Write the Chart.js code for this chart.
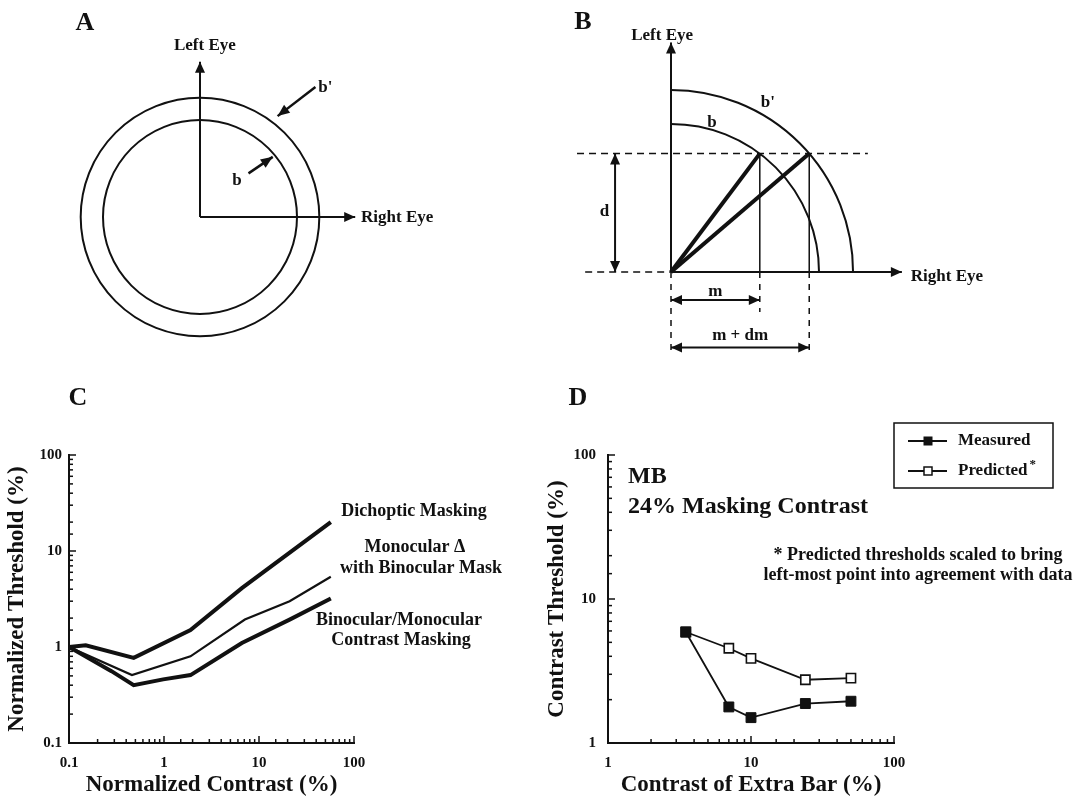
<!DOCTYPE html>
<html><head><meta charset="utf-8">
<script src="https://cdn.jsdelivr.net/npm/chart.js@4"></script>
<style>
html,body{margin:0;padding:0;background:#fff;width:1079px;height:800px;overflow:hidden;}
canvas{position:absolute;}
</style></head><body>
<canvas id="cA" width="540" height="380" style="left:0;top:0"></canvas>
<canvas id="cB" width="539" height="380" style="left:540px;top:0"></canvas>
<canvas id="cC" width="540" height="420" style="left:0;top:380px"></canvas>
<canvas id="cD" width="539" height="420" style="left:540px;top:380px"></canvas>
<script>
// ---------------- DATA ----------------
// Panel A (units: inner radius b = 1)
const aRadii = [1, 1.23];
const aAxisLen = 1.6;
const aPointerBprime = [[1.19, 1.34], [0.80, 1.04]];
const aPointerB = [[0.50, 0.45], [0.75, 0.62]];

// Panel B (units: inner radius b = 1)
const bRadii = [1, 1.23];
const bAxisLen = [1.56, 1.55];
const bD = 0.8;
const bM = 0.6;
const bMdm = 0.934;

// Panel C: normalized contrast (%) vs normalized threshold (%)
const dichX = [0.1, 0.15, 0.48, 1.9, 6.6, 57];
const dichY = [1.0, 1.04, 0.77, 1.5, 4.1, 20];
const monoX = [0.1, 0.46, 1.9, 7.1, 21, 57];
const monoY = [1.0, 0.51, 0.8, 1.93, 3.0, 5.4];
const binoX = [0.1, 0.28, 0.48, 0.98, 1.9, 6.6, 21, 57];
const binoY = [1.0, 0.56, 0.4, 0.46, 0.51, 1.1, 1.93, 3.2];
const cDecades = [0.1, 1, 10, 100];
const cTickLabels = ['0.1', '1', '10', '100'];

// Panel D: contrast of extra bar (%) vs contrast threshold (%)
const extraBar = [3.5, 7, 10, 24, 50];
const measured = [5.9, 1.78, 1.5, 1.88, 1.95];
const predicted = [5.9, 4.55, 3.87, 2.75, 2.82];
const dDecades = [1, 10, 100];
const dTickLabels = ['1', '10', '100'];

// ---------------- HELPERS ----------------
const FONT = '"Liberation Serif", "Times New Roman", serif';
const INK = '#111';
const pts = (xs, ys) => xs.map((x, i) => ({x, y: ys[i]}));
const seg = s => s.map(p => ({x: p[0], y: p[1]}));
const bold = size => ({family: FONT, size, weight: 'bold'});

function decadeLabel(decades, labels) {
  return v => {
    const i = decades.findIndex(d => Math.abs(d - v) / d < 1e-6);
    return i >= 0 ? labels[i] : '';
  };
}
const isDecade = v => { const l = Math.log10(v); return Math.abs(l - Math.round(l)) < 1e-6; };

const inwardTicks = {
  id: 'inwardTicks',
  afterDraw(chart) {
    const ctx = chart.ctx, a = chart.chartArea, xs = chart.scales.x, ys = chart.scales.y;
    ctx.save(); ctx.strokeStyle = INK; ctx.lineWidth = 1.5;
    xs.ticks.forEach(t => {
      const p = xs.getPixelForValue(t.value), L = isDecade(t.value) ? 7 : 4;
      ctx.beginPath(); ctx.moveTo(p, a.bottom); ctx.lineTo(p, a.bottom - L); ctx.stroke();
    });
    ys.ticks.forEach(t => {
      const p = ys.getPixelForValue(t.value), L = isDecade(t.value) ? 7 : 4;
      ctx.beginPath(); ctx.moveTo(a.left, p); ctx.lineTo(a.left + L, p); ctx.stroke();
    });
    ctx.restore();
  }
};

function drawHead(ctx, from, to, len, w) {
  const ang = Math.atan2(to.y - from.y, to.x - from.x);
  const c = Math.cos(ang), s = Math.sin(ang);
  ctx.beginPath();
  ctx.moveTo(to.x, to.y);
  ctx.lineTo(to.x - len * c + w * s, to.y - len * s - w * c);
  ctx.lineTo(to.x - len * c - w * s, to.y - len * s + w * c);
  ctx.closePath(); ctx.fill();
}
const arrowPlugin = {
  id: 'arrows',
  afterDatasetsDraw(chart) {
    const ctx = chart.ctx;
    chart.data.datasets.forEach((ds, i) => {
      if (!ds.arrow) return;
      const el = chart.getDatasetMeta(i).data;
      const p0 = el[0], p1 = el[el.length - 1];
      ctx.save(); ctx.fillStyle = INK;
      drawHead(ctx, p0, p1, ds.headLen || 11, ds.headW || 5);
      if (ds.arrow === 'both') drawHead(ctx, p1, p0, ds.headLen || 11, ds.headW || 5);
      ctx.restore();
    });
  }
};

// text notes: anchor 'data' (scale values), 'area' (offset from chart area), 'canvas'
const notesPlugin = {
  id: 'notes',
  afterDraw(chart, args, opts) {
    const ctx = chart.ctx, a = chart.chartArea;
    (opts.items || []).forEach(n => {
      let x, y;
      if (n.anchor === 'data') { x = chart.scales.x.getPixelForValue(n.x); y = chart.scales.y.getPixelForValue(n.y); }
      else if (n.anchor === 'area') { x = a.left + n.x; y = a.top + n.y; }
      else { x = n.x; y = n.y; }
      ctx.save();
      ctx.fillStyle = INK;
      ctx.font = 'bold ' + n.size + 'px ' + FONT;
      ctx.textAlign = n.align || 'center';
      ctx.textBaseline = 'middle';
      ctx.fillText(n.text, x, y);
      ctx.restore();
    });
  }
};

const ringsPlugin = {
  id: 'rings',
  beforeDatasetsDraw(chart, args, opts) {
    const ctx = chart.ctx, xs = chart.scales.x, ys = chart.scales.y;
    const cx = xs.getPixelForValue(0), cy = ys.getPixelForValue(0);
    ctx.save(); ctx.strokeStyle = INK; ctx.lineWidth = opts.width || 2;
    opts.radii.forEach(r => {
      const rx = xs.getPixelForValue(r) - cx, ry = cy - ys.getPixelForValue(r);
      ctx.beginPath();
      ctx.ellipse(cx, cy, rx, ry, 0, opts.start, opts.end);
      ctx.stroke();
    });
    ctx.restore();
  }
};

function segDataset(s, o) {
  return Object.assign({data: seg(s), showLine: true, borderColor: INK, borderWidth: 2,
    pointRadius: 0, tension: 0, clip: false}, o || {});
}
const hiddenScales = (xmin, xmax, ymin, ymax) => ({
  x: {type: 'linear', min: xmin, max: xmax, display: false},
  y: {type: 'linear', min: ymin, max: ymax, display: false}
});
const baseOpts = {responsive: false, animation: false, events: []};

// ---------------- PANEL A ----------------
{
  const k = 97; // px per unit
  new Chart(document.getElementById('cA'), {
    type: 'scatter',
    data: {datasets: [
      segDataset([[0, 0], [0, aAxisLen]], {arrow: 'end'}),
      segDataset([[0, 0], [aAxisLen, 0]], {arrow: 'end'}),
      segDataset(aPointerBprime, {arrow: 'end', borderWidth: 2.5, headLen: 12, headW: 5}),
      segDataset(aPointerB, {arrow: 'end', borderWidth: 2.5, headLen: 12, headW: 5})
    ]},
    options: Object.assign({}, baseOpts, {
      layout: {padding: 0},
      scales: hiddenScales(-200 / k, 340 / k, -163 / k, 217 / k),
      plugins: {legend: {display: false}, tooltip: {enabled: false},
        rings: {radii: aRadii, start: 0, end: 2 * Math.PI, width: 2},
        notes: {items: [
          {text: 'A', anchor: 'canvas', x: 85, y: 23, size: 26},
          {text: 'Left Eye', anchor: 'data', x: 0.05, y: 1.77, size: 17},
          {text: 'Right Eye', anchor: 'data', x: 1.66, y: -0.01, size: 17, align: 'left'},
          {text: "b'", anchor: 'data', x: 1.22, y: 1.33, size: 17, align: 'left'},
          {text: 'b', anchor: 'data', x: 0.38, y: 0.38, size: 17}
        ]}}
    }),
    plugins: [ringsPlugin, arrowPlugin, notesPlugin]
  });
}

// ---------------- PANEL B ----------------
{
  const k = 148;
  const dash = {borderDash: [7, 5], borderWidth: 1.5};
  new Chart(document.getElementById('cB'), {
    type: 'scatter',
    data: {datasets: [
      segDataset([[0, 0], [0, bAxisLen[1]]], {arrow: 'end'}),
      segDataset([[0, 0], [bAxisLen[0], 0]], {arrow: 'end'}),
      segDataset([[0, 0], [bM, bD]], {borderWidth: 4}),
      segDataset([[0, 0], [bMdm, bD]], {borderWidth: 4}),
      segDataset([[bM, bD], [bM, 0]], {borderWidth: 1.5}),
      segDataset([[bMdm, bD], [bMdm, 0]], {borderWidth: 1.5}),
      segDataset([[-0.635, bD], [1.33, bD]], dash),
      segDataset([[-0.58, 0], [0, 0]], dash),
      segDataset([[0, 0], [0, -0.56]], {borderDash: [6, 6], borderWidth: 1.5}),
      segDataset([[bM, 0], [bM, -0.27]], {borderDash: [6, 6], borderWidth: 1.5}),
      segDataset([[bMdm, 0], [bMdm, -0.56]], {borderDash: [6, 6], borderWidth: 1.5}),
      segDataset([[-0.378, 0], [-0.378, bD]], {arrow: 'both'}),
      segDataset([[0, -0.19], [bM, -0.19]], {arrow: 'both'}),
      segDataset([[0, -0.51], [bMdm, -0.51]], {arrow: 'both'})
    ]},
    options: Object.assign({}, baseOpts, {
      layout: {padding: 0},
      scales: hiddenScales(-131 / k, 408 / k, -108 / k, 272 / k),
      plugins: {legend: {display: false}, tooltip: {enabled: false},
        rings: {radii: bRadii, start: -Math.PI / 2, end: 0, width: 2},
        notes: {items: [
          {text: 'B', anchor: 'canvas', x: 43, y: 22, size: 26},
          {text: 'Left Eye', anchor: 'data', x: -0.06, y: 1.60, size: 17},
          {text: 'Right Eye', anchor: 'data', x: 1.62, y: -0.03, size: 17, align: 'left'},
          {text: "b'", anchor: 'data', x: 0.655, y: 1.142, size: 17},
          {text: 'b', anchor: 'data', x: 0.277, y: 1.01, size: 17},
          {text: 'd', anchor: 'data', x: -0.45, y: 0.405, size: 17},
          {text: 'm', anchor: 'data', x: 0.3, y: -0.135, size: 17},
          {text: 'm + dm', anchor: 'data', x: 0.467, y: -0.43, size: 17}
        ]}}
    }),
    plugins: [ringsPlugin, arrowPlugin, notesPlugin]
  });
}

// ---------------- LOG AXIS FACTORY ----------------
function logAxis(min, max, decades, labels, title, fitProp, fitVal, tickPad, titlePad) {
  return {
    type: 'logarithmic', min, max,
    grid: {display: false, drawTicks: false},
    border: {display: true, color: INK, width: 2},
    ticks: {autoSkip: false, maxRotation: 0, minRotation: 0, padding: tickPad, color: INK,
      font: bold(15), callback: decadeLabel(decades, labels)},
    title: {display: true, text: title, color: INK, font: bold(23), padding: titlePad},
    afterFit: s => { s[fitProp] = fitVal; }
  };
}

// ---------------- PANEL C ----------------
new Chart(document.getElementById('cC'), {
  type: 'scatter',
  data: {datasets: [
    {label: 'Dichoptic Masking', data: pts(dichX, dichY), showLine: true, borderColor: INK, borderWidth: 4, pointRadius: 0, tension: 0},
    {label: 'Monocular Δ with Binocular Mask', data: pts(monoX, monoY), showLine: true, borderColor: INK, borderWidth: 2.2, pointRadius: 0, tension: 0},
    {label: 'Binocular/Monocular Contrast Masking', data: pts(binoX, binoY), showLine: true, borderColor: INK, borderWidth: 4, pointRadius: 0, tension: 0}
  ]},
  options: Object.assign({}, baseOpts, {
    layout: {padding: {left: 0, top: 75, right: 186, bottom: 0}},
    scales: {
      x: logAxis(0.1, 100, cDecades, cTickLabels, 'Normalized Contrast (%)', 'height', 57, 11, {top: 0, bottom: 1}),
      y: logAxis(0.1, 100, cDecades, cTickLabels, 'Normalized Threshold (%)', 'width', 69, 7, {top: 3, bottom: 0})
    },
    plugins: {legend: {display: false}, tooltip: {enabled: false},
      notes: {items: [
        {text: 'C', anchor: 'canvas', x: 78, y: 18, size: 26},
        {text: 'Dichoptic Masking', anchor: 'area', x: 345, y: 56, size: 18},
        {text: 'Monocular Δ', anchor: 'area', x: 346, y: 92, size: 18},
        {text: 'with Binocular Mask', anchor: 'area', x: 352, y: 113, size: 18},
        {text: 'Binocular/Monocular', anchor: 'area', x: 330, y: 165, size: 18},
        {text: 'Contrast Masking', anchor: 'area', x: 332, y: 185, size: 18}
      ]}}
  }),
  plugins: [inwardTicks, notesPlugin]
});

// ---------------- PANEL D ----------------
const legendBox = {
  id: 'legendBox',
  afterDraw(chart) {
    const ctx = chart.ctx, a = chart.chartArea;
    const L = a.right, T = a.top - 32, W = 159, H = 65;
    ctx.save();
    ctx.strokeStyle = INK; ctx.lineWidth = 1.5;
    ctx.strokeRect(L, T, W, H);
    chart.data.datasets.forEach((ds, i) => {
      const y = T + 18 + i * 30;
      ctx.lineWidth = 1.8; ctx.strokeStyle = INK;
      ctx.beginPath(); ctx.moveTo(L + 14, y); ctx.lineTo(L + 53, y); ctx.stroke();
      const s = 9;
      if (ds.backgroundColor === INK) { ctx.fillStyle = INK; ctx.fillRect(L + 34 - s / 2, y - s / 2, s, s); }
      else { ctx.lineWidth = 1.5; ctx.fillStyle = '#fff'; ctx.fillRect(L + 34 - 4, y - 4, 8, 8); ctx.strokeRect(L + 34 - 4, y - 4, 8, 8); }
      ctx.fillStyle = INK; ctx.font = 'bold 17px ' + FONT; ctx.textAlign = 'left'; ctx.textBaseline = 'middle';
      ctx.fillText(ds.label, L + 64, y);
      if (ds.note) {
        const w = ctx.measureText(ds.label).width;
        ctx.font = 'bold 13px ' + FONT;
        ctx.fillText(ds.note, L + 66 + w, y - 6);
      }
    });
    ctx.restore();
  }
};

new Chart(document.getElementById('cD'), {
  type: 'scatter',
  data: {datasets: [
    {label: 'Measured', data: pts(extraBar, measured), showLine: true, borderColor: INK, borderWidth: 1.8,
     pointStyle: 'rect', pointRadius: 7, pointBackgroundColor: INK, backgroundColor: INK, pointBorderColor: INK, pointBorderWidth: 1, tension: 0},
    {label: 'Predicted', note: '*', data: pts(extraBar, predicted), showLine: true, borderColor: INK, borderWidth: 1.8,
     pointStyle: 'rect', pointRadius: 6.5, pointBackgroundColor: '#fff', backgroundColor: '#fff', pointBorderColor: INK, pointBorderWidth: 1.6, tension: 0}
  ]},
  options: Object.assign({}, baseOpts, {
    layout: {padding: {left: 0, top: 75, right: 185, bottom: 0}},
    scales: {
      x: logAxis(1, 100, dDecades, dTickLabels, 'Contrast of Extra Bar (%)', 'height', 57, 11, {top: 0, bottom: 1}),
      y: logAxis(1, 100, dDecades, dTickLabels, 'Contrast Threshold (%)', 'width', 68, 12, {top: 3, bottom: 0})
    },
    plugins: {legend: {display: false}, tooltip: {enabled: false},
      notes: {items: [
        {text: 'D', anchor: 'canvas', x: 38, y: 18, size: 26},
        {text: 'MB', anchor: 'area', x: 20, y: 22, size: 24, align: 'left'},
        {text: '24% Masking Contrast', anchor: 'area', x: 20, y: 52, size: 24, align: 'left'},
        {text: '* Predicted thresholds scaled to bring', anchor: 'area', x: 310, y: 100, size: 18},
        {text: 'left-most point into agreement with data', anchor: 'area', x: 310, y: 120, size: 18}
      ]}}
  }),
  plugins: [inwardTicks, notesPlugin, legendBox]
});
</script>
</body></html>
